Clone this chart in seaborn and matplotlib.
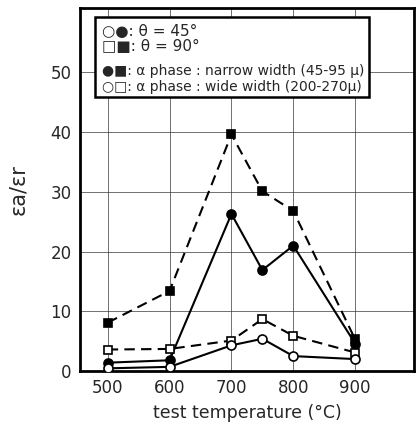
import matplotlib
matplotlib.use("Agg")
import matplotlib.pyplot as plt
import seaborn as sns
import pandas as pd

temps = [500, 600, 700, 750, 800, 900]
sq90_narrow = [8.1, 13.4, 39.6, 30.1, 26.8, 5.3]
ci45_narrow = [1.4, 1.8, 26.3, 16.9, 21.0, 4.6]
sq90_wide = [3.6, 3.7, 5.1, 8.7, 5.9, 3.1]
ci45_wide = [0.45, 0.7, 4.3, 5.4, 2.5, 2.0]

xticks = [500, 600, 700, 800, 900]
yticks = [0, 10, 20, 30, 40, 50]
legend_lines = ["○●: θ = 45°", "□■: θ = 90°",
                "●■: α phase : narrow width (45-95 μ)",
                "○□: α phase : wide width (200-270μ)"]

sns.set_style("white")
plt.rcParams['font.family'] = ['DejaVu Sans']

fig = plt.figure(figsize=(4.16, 4.36), dpi=100)
ax = fig.add_axes([0.192, 0.149, 0.803, 0.833])

series = [
    (sq90_narrow, 's', 'black', (5, 3)),
    (ci45_narrow, 'o', 'black', None),
    (sq90_wide, 's', 'white', (5, 3)),
    (ci45_wide, 'o', 'white', None),
]
for vals, mk, fc, dash in series:
    df = pd.DataFrame({"t": temps, "v": vals})
    kw = dict(color='black', lw=1.5, marker=mk, markersize=6.5 if mk == 'o' else 6,
              markerfacecolor=fc, markeredgecolor='black', markeredgewidth=1.2, zorder=4)
    sns.lineplot(data=df, x="t", y="v", ax=ax, **kw)
    if dash is not None:
        ax.lines[-1].set_dashes(dash)

ax.set_xlim(455, 995)
ax.set_ylim(0, 60.8)
ax.set_xticks(xticks)
ax.set_yticks(yticks)
ax.set_xticklabels([str(t) for t in xticks], fontsize=12)
ax.set_yticklabels([str(t) for t in yticks], fontsize=12)
ax.grid(True, color='#333333', lw=0.7, alpha=0.7)
ax.set_axisbelow(True)
ax.tick_params(axis='both', direction='out', length=4, width=1, color='black', pad=2)
for s in ax.spines.values():
    s.set_linewidth(2)
    s.set_color('black')

ax.set_xlabel("test temperature (°C)", fontsize=12.5, labelpad=5)
ax.set_ylabel("εa/εr", fontsize=15, labelpad=16)

# legend box
from matplotlib.patches import Rectangle
box = Rectangle((0.045, 0.755), 0.82, 0.22, transform=ax.transAxes,
                facecolor='white', edgecolor='black', lw=1.8, zorder=5)
ax.add_patch(box)
ys = [0.935, 0.893, 0.825, 0.782]
sizes = [11, 11, 10, 10]
for y, txt, fs in zip(ys, legend_lines, sizes):
    ax.text(0.065, y, txt, transform=ax.transAxes, fontsize=fs, va='center',
            ha='left', zorder=6)

fig.savefig("out.png", dpi=100)
